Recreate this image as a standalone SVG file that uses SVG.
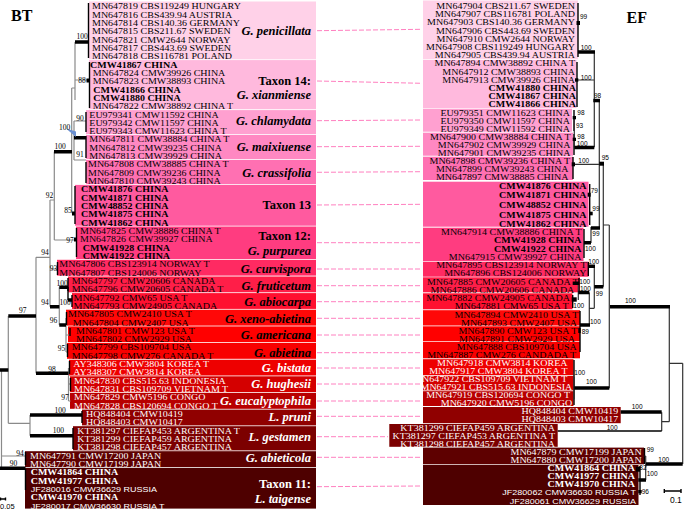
<svg xmlns="http://www.w3.org/2000/svg" width="685" height="512" viewBox="0 0 685 512">
<style>
.t{font-family:"Liberation Serif","Times New Roman",serif;font-size:7.2px}
.b{font-weight:bold}
.w{fill:#fff}
.r{text-anchor:end}
.s{font-family:"Liberation Sans",Arial,sans-serif;font-size:6.5px;font-weight:normal}
.sp{font-family:"Liberation Serif","Times New Roman",serif;font-size:12.5px;font-weight:bold;font-style:italic;text-anchor:end}
.tx{font-style:normal}
.bl{font-family:"Liberation Serif","Times New Roman",serif;font-size:7.5px;text-anchor:middle}
.br{font-family:"Liberation Sans",Arial,sans-serif;font-size:6.5px}
.hd{font-family:"Liberation Serif","Times New Roman",serif;font-size:16px;font-weight:bold}
.lg{fill:none;stroke:#8a8a8a;stroke-width:1.2}
.lk{fill:none;stroke:#000;stroke-width:1.4}
.th{fill:none;stroke:#000;stroke-width:3.5}
.lr{fill:none;stroke:#333;stroke-width:1.2}
.cn{stroke:#ff80c0;stroke-width:1;stroke-dasharray:5 2}
</style>
<rect width="685" height="512" fill="#fff"/>
<text class="hd" x="11" y="20.5">BT</text>
<text class="hd" x="626.5" y="22.7">EF</text>

<!-- LEFT CLADES -->
<g id="L-penicillata">
<rect x="89" y="1.5" width="227" height="57.8" fill="#FFD1E8"/>
<text class="t" transform="translate(92,0) scale(1.389,1)"><tspan x="0" y="9.4">MN647819 CBS119249 HUNGARY</tspan><tspan x="0" y="17.7">MN647816 CBS439.94 AUSTRIA</tspan><tspan x="0" y="26">MN647814 CBS140.36 GERMANY</tspan><tspan x="0" y="34.4">MN647815 CBS211.67 SWEDEN</tspan><tspan x="0" y="42.7">MN647821 CMW2644 NORWAY</tspan><tspan x="0" y="51">MN647817 CBS443.69 SWEDEN</tspan><tspan x="0" y="59.3">MN647818 CBS116781 POLAND</tspan></text>
<text class="sp" x="311" y="35">G. penicillata</text>
</g>
<g id="L-taxon14">
<rect x="89" y="60.1" width="227" height="49.1" fill="#FFB9DD"/>
<text class="t" transform="translate(92.7,0) scale(1.389,1)"><tspan class="b" x="-1.94" y="67.6">CMW41867 CHINA</tspan><tspan x="0" y="76">MN647824 CMW39926 CHINA</tspan><tspan x="0" y="84.3">MN647823 CMW38893 CHINA</tspan><tspan class="b" x="0.43" y="92.6">CMW41866 CHINA</tspan><tspan class="b" x="0.43" y="100.9">CMW41880 CHINA</tspan><tspan x="0" y="109.2">MN647822 CMW38892 CHINA T</tspan></text>
<text class="sp"><tspan class="tx" x="311" y="85.3">Taxon 14:</tspan><tspan x="311" y="99.3">G. xianmiense</tspan></text>
</g>
<g id="L-chlamydata">
<rect x="86" y="110.1" width="230" height="24.1" fill="#FFA0D0"/>
<text class="t" transform="translate(89.3,0) scale(1.389,1)"><tspan x="0" y="117.6">EU979341 CMW11592 CHINA</tspan><tspan x="0" y="125.9">EU979342 CMW11597 CHINA</tspan><tspan x="0" y="134.2">EU979343 CMW11623 CHINA T</tspan></text>
<text class="sp" x="311" y="125">G. chlamydata</text>
</g>
<g id="L-maixiuense">
<rect x="86" y="135" width="230" height="24.2" fill="#FF88C2"/>
<text class="t" transform="translate(89.3,0) scale(1.389,1)"><tspan x="0" y="142.5">MN647811 CMW38884 CHINA T</tspan><tspan x="0" y="150.8">MN647812 CMW39235 CHINA</tspan><tspan x="0" y="159.2">MN647813 CMW39929 CHINA</tspan></text>
<text class="sp" x="311" y="151">G. maixiuense</text>
</g>
<g id="L-crassifolia">
<rect x="86" y="160" width="230" height="24.1" fill="#FF70B2"/>
<text class="t" transform="translate(88,0) scale(1.389,1)"><tspan x="0" y="167.5">MN647808 CMW38885 CHINA T</tspan><tspan x="0" y="175.8">MN647809 CMW39236 CHINA</tspan><tspan x="0" y="184.1">MN647810 CMW39243 CHINA</tspan></text>
<text class="sp" x="311" y="176.8">G. crassifolia</text>
</g>
<g id="L-taxon13">
<rect x="75" y="184.9" width="241" height="40.8" fill="#FF5A9F"/>
<text class="t b" transform="translate(81,0) scale(1.389,1)"><tspan x="0" y="192.4">CMW41876 CHINA</tspan><tspan x="0" y="200.8">CMW41871 CHINA</tspan><tspan x="0" y="209.1">CMW48852 CHINA</tspan><tspan x="0" y="217.4">CMW41875 CHINA</tspan><tspan x="0" y="225.7">CMW41862 CHINA</tspan></text>
<text class="sp tx" x="311" y="209.3">Taxon 13</text>
</g>
<g id="L-taxon12">
<rect x="76" y="226.5" width="240" height="32.5" fill="#FF3C80"/>
<text class="t" transform="translate(80,0) scale(1.389,1)"><tspan x="0" y="234">MN647825 CMW38886 CHINA T</tspan><tspan x="0" y="242.4">MN647826 CMW39927 CHINA</tspan><tspan class="b" x="1.94" y="250.7">CMW41928 CHINA</tspan><tspan class="b" x="1.94" y="259">CMW41922 CHINA</tspan></text>
<text class="sp"><tspan class="tx" x="311" y="240.3">Taxon 12:</tspan><tspan x="311" y="255.3">G. purpurea</tspan></text>
</g>
<g id="L-curvispora">
<rect x="57" y="259.8" width="259" height="15.8" fill="#FF2A62"/>
<text class="t" transform="translate(59.3,0) scale(1.389,1)"><tspan x="0" y="267.3">MN647806 CBS123914 NORWAY T</tspan><tspan x="0" y="275.6">MN647807 CBS124006 NORWAY</tspan></text>
<text class="sp" x="311" y="272.8">G. curvispora</text>
</g>
<g id="L-fruticetum">
<rect x="68" y="276.5" width="248" height="15.8" fill="#FF1E48"/>
<text class="t" transform="translate(71.7,0) scale(1.389,1)"><tspan x="0" y="284">MN647797 CMW20606 CANADA</tspan><tspan x="0" y="292.3">MN647796 CMW20605 CANADA T</tspan></text>
<text class="sp" x="311" y="289.8">G. fruticetum</text>
</g>
<g id="L-abiocarpa">
<rect x="72" y="293.1" width="244" height="15.8" fill="#FF1030"/>
<text class="t" transform="translate(73.5,0) scale(1.389,1)"><tspan x="0" y="300.6">MN647792 CMW65 USA T</tspan><tspan x="0" y="308.9">MN647793 CMW24905 CANADA</tspan></text>
<text class="sp" x="311" y="306.3">G. abiocarpa</text>
</g>
<g id="L-xeno-abietina">
<rect x="66" y="309.7" width="250" height="15.9" fill="#FF0808"/>
<text class="t" transform="translate(68,0) scale(1.389,1)"><tspan x="0" y="317.2">MN647805 CMW2410 USA T</tspan><tspan x="3.38" y="325.6">MN647804 CMW2407 USA</tspan></text>
<text class="sp" x="311" y="322.6">G. xeno-abietina</text>
</g>
<g id="L-americana">
<rect x="68" y="326.4" width="248" height="15.8" fill="#FF0000"/>
<text class="t" transform="translate(76,0) scale(1.389,1)"><tspan x="0" y="333.9">MN647801 CMW123 USA T</tspan><tspan x="0" y="342.2">MN647802 CMW2929 USA</tspan></text>
<text class="sp" x="311" y="339.3">G. americana</text>
</g>
<g id="L-abietina">
<rect x="67" y="343" width="249" height="15.8" fill="#F80000"/>
<text class="t" transform="translate(71.7,0) scale(1.389,1)"><tspan x="0" y="350.5">MN647799 CBS109704 USA</tspan><tspan x="0" y="358.8">MN647798 CMW276 CANADA T</tspan></text>
<text class="sp" x="311" y="357">G. abietina</text>
</g>
<g id="L-bistata">
<rect x="69" y="359.7" width="247" height="15.8" fill="#EE0000"/>
<text class="t w" transform="translate(73.3,0) scale(1.389,1)"><tspan x="0" y="367.2">AY348306 CMW3804 KOREA T</tspan><tspan x="0" y="375.5">AY348307 CMW3814 KOREA</tspan></text>
<text class="sp w" x="311" y="372.3">G. bistata</text>
</g>
<g id="L-hughesii">
<rect x="70" y="376.3" width="246" height="15.8" fill="#D40000"/>
<text class="t w" transform="translate(74,0) scale(1.389,1)"><tspan x="0" y="383.8">MN647830 CBS515.63 INDONESIA</tspan><tspan x="0" y="392.1">MN647831 CBS109709 VIETNAM T</tspan></text>
<text class="sp w" x="311" y="388.3">G. hughesii</text>
</g>
<g id="L-eucalyptophila">
<rect x="70" y="392.9" width="246" height="15.9" fill="#B80000"/>
<text class="t w" transform="translate(74,0) scale(1.389,1)"><tspan x="0" y="400.4">MN647829 CMW5196 CONGO</tspan><tspan x="0" y="408.8">MN647828 CBS120694 CONGO T</tspan></text>
<text class="sp w" x="311" y="405.3">G. eucalyptophila</text>
</g>
<g id="L-pruni">
<rect x="82" y="409.6" width="234" height="15.8" fill="#900000"/>
<text class="t w" transform="translate(86,0) scale(1.389,1)"><tspan x="0" y="417.1">HQ848404 CMW10419</tspan><tspan x="0" y="425.4">HQ848403 CMW10417</tspan></text>
<text class="sp w" x="311" y="420.6">L. pruni</text>
</g>
<g id="L-gestamen">
<rect x="73" y="426.2" width="243" height="24.2" fill="#7C0000"/>
<text class="t w" transform="translate(77.3,0) scale(1.389,1)"><tspan x="0" y="433.7">KT381297 CIEFAP453 ARGENTINA T</tspan><tspan x="0" y="442">KT381299 CIEFAP459 ARGENTINA</tspan><tspan x="0" y="450.4">KT381298 CIEFAP457 ARGENTINA</tspan></text>
<text class="sp w" x="311" y="441">L. gestamen</text>
</g>
<g id="L-abieticola">
<rect x="25" y="451.2" width="291" height="15.8" fill="#5E0000"/>
<text class="t w" transform="translate(30,0) scale(1.389,1)"><tspan x="0" y="458.7">MN647791 CMW17200 JAPAN</tspan><tspan x="0" y="467">MN647790 CMW17199 JAPAN</tspan></text>
<text class="sp w" x="311" y="461.6">G. abieticola</text>
</g>
<g id="L-taxon11">
<rect x="25" y="467.8" width="291" height="40.8" fill="#4E0000"/>
<text class="t w" transform="translate(30.7,0) scale(1.389,1)"><tspan class="b" x="0" y="475.3">CMW41864 CHINA</tspan><tspan class="b" x="0" y="483.6">CMW41977 CHINA</tspan><tspan class="s" x="0" y="492">JF280016 CMW36629 RUSSIA</tspan><tspan class="b" x="0" y="500.3">CMW41970 CHINA</tspan><tspan class="s" x="0" y="508.6">JF280017 CMW36630 RUSSIA T</tspan></text>
<text class="sp w"><tspan class="tx" x="311" y="488.3">Taxon 11:</tspan><tspan x="311" y="502.6">L. taigense</tspan></text>
</g>

<!-- RIGHT CLADES -->
<g id="R-penicillata">
<rect x="423" y="0.5" width="155" height="58.8" fill="#FFD1E8"/>
<text class="t r" transform="translate(575,0) scale(1.389,1)"><tspan x="0" y="9.1">MN647904 CBS211.67 SWEDEN</tspan><tspan x="0" y="17.3">MN647907 CBS116781 POLAND</tspan><tspan x="0" y="25.5">MN647903 CBS140.36 GERMANY</tspan><tspan x="0" y="33.7">MN647906 CBS443.69 SWEDEN</tspan><tspan x="0" y="41.9">MN647910 CMW2644 NORWAY</tspan><tspan x="0" y="50.1">MN647908 CBS119249 HUNGARY</tspan><tspan x="0" y="58.2">MN647905 CBS439.94 AUSTRIA</tspan></text>
</g>
<g id="R-taxon14">
<rect x="423" y="60" width="153.5" height="48" fill="#FFB9DD"/>
<text class="t r" transform="translate(575,0) scale(1.389,1)"><tspan x="0" y="66.4">MN647894 CMW38892 CHINA T</tspan><tspan x="0" y="74.6">MN647912 CMW38893 CHINA</tspan><tspan x="0" y="82.8">MN647913 CMW39926 CHINA</tspan><tspan class="b" x="0.72" y="91">CMW41880 CHINA</tspan><tspan class="b" x="0.72" y="99.2">CMW41867 CHINA</tspan><tspan class="b" x="0.72" y="107.4">CMW41866 CHINA</tspan></text>
</g>
<g id="R-chlamydata">
<rect x="423" y="108.7" width="149" height="23" fill="#FFA0D0"/>
<text class="t r" transform="translate(570,0) scale(1.389,1)"><tspan x="0" y="115.6">EU979351 CMW11623 CHINA</tspan><tspan x="0" y="123.7">EU979350 CMW11597 CHINA</tspan><tspan x="0" y="131.8">EU979349 CMW11592 CHINA</tspan></text>
</g>
<g id="R-maixiuense">
<rect x="423" y="132.7" width="150" height="23" fill="#FF88C2"/>
<text class="t r" transform="translate(570.5,0) scale(1.389,1)"><tspan x="0" y="139.9">MN647900 CMW38884 CHINA T</tspan><tspan x="0" y="148">MN647902 CMW39929 CHINA</tspan><tspan x="0" y="156.1">MN647901 CMW39235 CHINA</tspan></text>
</g>
<g id="R-crassifolia">
<rect x="423" y="156.7" width="150" height="23.3" fill="#FF70B2"/>
<text class="t r" transform="translate(570,0) scale(1.389,1)"><tspan x="0" y="164.2">MN647898 CMW39236 CHINA T</tspan><tspan x="-1.08" y="172.3">MN647899 CMW39243 CHINA</tspan><tspan x="-1.08" y="180.4">MN647897 CMW38885 CHINA</tspan></text>
</g>
<g id="R-taxon13">
<rect x="423" y="181.7" width="165.5" height="45" fill="#FF5A9F"/>
<text class="t b r" transform="translate(586.5,0) scale(1.389,1)"><tspan x="0" y="189.5">CMW41876 CHINA</tspan><tspan x="0" y="198.5">CMW41871 CHINA</tspan><tspan x="0" y="208.1">CMW48852 CHINA</tspan><tspan x="0" y="217.8">CMW41875 CHINA</tspan><tspan x="0" y="226.8">CMW41862 CHINA</tspan></text>
</g>
<g id="R-taxon12">
<rect x="423" y="227.7" width="160.5" height="33.3" fill="#FF3C80"/>
<text class="t r" transform="translate(581.5,0) scale(1.389,1)"><tspan x="0" y="234.8">MN647914 CMW38886 CHINA T</tspan><tspan class="b" x="0" y="242.8">CMW41928 CHINA</tspan><tspan class="b" x="0" y="251.8">CMW41922 CHINA</tspan><tspan x="0" y="259.9">MN647915 CMW39927 CHINA</tspan></text>
</g>
<g id="R-curvispora">
<rect x="423" y="261.7" width="165.5" height="15" fill="#FF2A62"/>
<text class="t r" transform="translate(586.5,0) scale(1.389,1)"><tspan x="0" y="267.9">MN647895 CBS123914 NORWAY T</tspan><tspan x="0" y="275.9">MN647896 CBS124006 NORWAY</tspan></text>
</g>
<g id="R-fruticetum">
<rect x="423" y="277.3" width="157" height="15" fill="#FF1E48"/>
<text class="t r" transform="translate(578.5,0) scale(1.389,1)"><tspan x="0" y="285.1">MN647885 CMW20605 CANADA T</tspan><tspan x="-3" y="293.2">MN647886 CMW20606 CANADA</tspan></text>
</g>
<g id="R-abiocarpa">
<rect x="423" y="293.3" width="149.5" height="16" fill="#FF1030"/>
<text class="t r" transform="translate(570,0) scale(1.389,1)"><tspan x="0" y="301.4">MN647882 CMW24905 CANADA</tspan><tspan x="-1.08" y="309.4">MN647881 CMW65 USA T</tspan></text>
</g>
<g id="R-xeno-abietina">
<rect x="423" y="310.2" width="157" height="15.3" fill="#FF0808"/>
<text class="t r" transform="translate(578.3,0) scale(1.389,1)"><tspan x="0" y="317.7">MN647894 CMW2410 USA T</tspan><tspan x="-0.94" y="325.8">MN647893 CMW2407 USA</tspan></text>
</g>
<g id="R-americana">
<rect x="423" y="326.3" width="157" height="15" fill="#FF0000"/>
<text class="t r" transform="translate(577.3,0) scale(1.389,1)"><tspan x="0" y="333.9">MN647890 CMW123 USA T</tspan><tspan x="-1.66" y="342">MN647891 CMW2929 USA</tspan></text>
</g>
<g id="R-abietina">
<rect x="423" y="342" width="157" height="16.3" fill="#F80000"/>
<text class="t r" transform="translate(576.7,0) scale(1.389,1)"><tspan x="0" y="350.1">MN647888 CBS109704 USA</tspan><tspan x="-0.5" y="358.1">MN647887 CMW276 CANDADA T</tspan></text>
</g>
<g id="R-bistata">
<rect x="423" y="359.2" width="150.5" height="15.8" fill="#EE0000"/>
<text class="t w r" transform="translate(567.5,0) scale(1.389,1)"><tspan x="0" y="366.1">MN647918 CMW3814 KOREA</tspan><tspan x="0" y="374.1">MN647917 CMW3804 KOREA T</tspan></text>
</g>
<g id="R-hughesii">
<rect x="423" y="375.8" width="150.5" height="14.6" fill="#D40000"/>
<text class="t w r" transform="translate(567.3,0) scale(1.389,1)"><tspan x="0" y="382.1">MN647922 CBS109709 VIETNAM T</tspan><tspan x="3.6" y="390.1">MN647921 CBS515.63 INDONESIA</tspan></text>
</g>
<g id="R-eucalyptophila">
<rect x="423" y="391.2" width="150.5" height="14.8" fill="#B80000"/>
<text class="t w r" transform="translate(570,0) scale(1.389,1)"><tspan x="0" y="398.1">MN647919 CBS120694 CONGO T</tspan><tspan x="1.66" y="406.2">MN647920 CMW5196 CONGO</tspan></text>
</g>
<g id="R-pruni">
<rect x="423" y="407" width="197.7" height="16.2" fill="#900000"/>
<text class="t w r" transform="translate(618.3,0) scale(1.389,1)"><tspan x="0" y="414.4">HQ848404 CMW10419</tspan><tspan x="0" y="422.4">HQ848403 CMW10417</tspan></text>
</g>
<g id="R-gestamen">
<rect x="389.3" y="424" width="168.4" height="22.8" fill="#7C0000"/>
<text class="t w r" transform="translate(555,0) scale(1.389,1)"><tspan x="0" y="430.7">KT381299 CIEFAP459 ARGENTINA</tspan><tspan x="0" y="438.8">KT381297 CIEFAP453 ARGENTINA T</tspan><tspan x="0" y="446.9">KT381298 CIEFAP457 ARGENTINA</tspan></text>
</g>
<g id="R-abieticola">
<rect x="423" y="447.6" width="221" height="16.7" fill="#5E0000"/>
<text class="t w r" transform="translate(641.7,0) scale(1.389,1)"><tspan x="0" y="455">MN647879 CMW17199 JAPAN</tspan><tspan x="0" y="463.1">MN647880 CMW17200 JAPAN</tspan></text>
</g>
<g id="R-taxon11">
<rect x="423" y="465" width="215.5" height="40" fill="#4E0000"/>
<text class="t w r" transform="translate(635,0) scale(1.389,1)"><tspan class="b" x="0" y="471.1">CMW41864 CHINA</tspan><tspan class="b" x="0" y="479.4">CMW41977 CHINA</tspan><tspan class="b" x="0" y="487.4">CMW41970 CHINA</tspan><tspan class="s" x="0.72" y="495.4">JF280062 CMW36630 RUSSIA T</tspan><tspan class="s" x="0.72" y="504.1">JF280061 CMW36629 RUSSIA</tspan></text>
</g>

<!-- CONNECTORS -->
<g id="connectors">
<line class="cn" x1="317" y1="30.7" x2="422" y2="29.3"/>
<line class="cn" x1="317" y1="81" x2="422" y2="83.3"/>
<line class="cn" x1="317" y1="120.7" x2="422" y2="120"/>
<line class="cn" x1="317" y1="146.7" x2="422" y2="146.3"/>
<line class="cn" x1="317" y1="172.3" x2="422" y2="171.7"/>
<line class="cn" x1="317" y1="205" x2="422" y2="204.3"/>
<line class="cn" x1="317" y1="242.7" x2="422" y2="242.7"/>
<line class="cn" x1="317" y1="269" x2="422" y2="269"/>
<line class="cn" x1="317" y1="285.7" x2="422" y2="285.7"/>
<line class="cn" x1="317" y1="301.7" x2="422" y2="301.7"/>
<line class="cn" x1="317" y1="318.3" x2="422" y2="318.3"/>
<line class="cn" x1="317" y1="335" x2="422" y2="335"/>
<line class="cn" x1="317" y1="352.7" x2="422" y2="352.7"/>
<line class="cn" x1="317" y1="368" x2="422" y2="368"/>
<line class="cn" x1="317" y1="384" x2="422" y2="384"/>
<line class="cn" x1="317" y1="401" x2="422" y2="401"/>
<line class="cn" x1="317" y1="416.3" x2="422" y2="416.3"/>
<line class="cn" x1="317" y1="436.7" x2="388" y2="436.7"/>
<line class="cn" x1="317" y1="457.3" x2="422" y2="457.3"/>
<line class="cn" x1="317" y1="486.7" x2="422" y2="486"/>
</g>

<!-- LEFT TREE -->
<g id="tree-left">
<path class="lg" d="M75,42V100M75,80H89M71.7,88H75M71.7,88V213M71.7,133H74M74,121V160M74,121H86M74,160H86M71.7,213H75M54.3,151.7V240M54.3,240H76M50,200H54.3M50,200V306.7M36,257.3H50M50,269H57.5M36,257.3V373.3M8.3,316V423.3M59.3,287.3V325M66,318V352M66,335H70M66,352H67.5M68.5,368V401M68.5,384H70.5M68.5,401H70.5M8.3,423.3H30M30,415V435.7M1.5,370V468.3M1.5,456H25.5"/>
<path class="lk" d="M88.5,3V58M89.5,62V108M86,112V132M86,136V158M86,162V183M75,186V224M76.5,228V257M57.5,262V275M68,278V291M72,295V307M66.5,312V325M70,328V336M67.5,344V357M69.5,361V374M82,411V423M73,428V449M25.5,452V465M25.5,469V490"/>
<path class="lk" stroke-width="2.2" d="M70.5,378V391M68,287V300"/>
<path class="th" d="M75,42H88.5M54,151.7H72M74,137.7H86M59.3,287.3H68M68,300H72M50,306.7H59.3M59.3,325H66M8.3,316H36M36,373.3H68.5M0,370H8.3M30,415H82M30,435.7H73M0,468.3H25.5"/>
<rect x="86.5" y="78.5" width="3" height="4"/>
<rect x="72" y="211.5" width="3" height="4"/>
<rect x="74" y="237.5" width="3" height="4"/>
<polygon points="66,128.5 76,131.5 76,137" fill="#6a8fd0"/>
<text class="bl" x="82" y="39">100</text>
<text class="bl" x="82" y="83">88</text>
<text class="bl" x="80" y="121">90</text>
<text class="bl" x="64.5" y="130">100</text>
<text class="bl" x="60" y="149">100</text>
<text class="bl" x="80" y="156.5">91</text>
<text class="bl" x="49.5" y="198">92</text>
<text class="bl" x="68" y="212.5">85</text>
<text class="bl" x="70" y="242.5">97</text>
<text class="bl" x="45" y="255">94</text>
<text class="bl" x="53.5" y="271">93</text>
<text class="bl" x="62" y="285.5">100</text>
<text class="bl" x="65" y="305">100</text>
<text class="bl" x="45" y="304.5">94</text>
<text class="bl" x="22.7" y="313">97</text>
<text class="bl" x="53.5" y="322.5">96</text>
<text class="bl" x="61.5" y="351">95</text>
<text class="bl" x="52" y="371.5">98</text>
<text class="bl" x="65" y="399.5">97</text>
<text class="bl" x="60" y="412.5">100</text>
<text class="bl" x="58.3" y="433">100</text>
<text class="bl" x="20" y="455.5">94</text>
<text class="bl" x="13.5" y="466">90</text>
<path class="lk" stroke-width="0.8" d="M0.5,499H5.5M0.5,497.5V500.5M5.5,497.5V500.5"/>
<text class="br" style="font-size:7.5px" x="0" y="509">0.05</text>
</g>

<!-- RIGHT TREE -->
<g id="tree-right">
<path class="lk" d="M578,3V57M577,62V107M574,110V131M574,134V155M573,157V179M589.7,184V225M584,229V258M588.3,262V276M579,278V291M572.7,295V308M580,311V352M574,360V405M644.5,448V464M640,466V495"/>
<path class="lr" d="M594.3,52V147.3M577,80H594.3M574.3,117V147.3M573,164.3H600M599.3,100V227M603.3,164V286.7M591,227V243M603.3,225H609.3M609.3,225V388.3M594.3,266V308.3M589.3,308.3H594.3M589.3,292.5V325M578.3,283.3V300M669.3,306.7V421.7M661.7,412.3V431M661.7,421.7H669.3M669.3,363.3H682.7M682.7,363.3V464M645.7,456V480M644.5,456H645.7M574.3,376.7V399.3"/>
<path class="lk" stroke-width="1.5" d="M557.7,431H661.7"/>
<path class="th" d="M578,52H595M574.3,147.5H594.3M591,228H600M584,242.8H591M588.3,266.3H595M572.7,283.3H579.3M578.3,292.5H589.3M594.3,286.7H603.3M580,325H590M610,306.7H670M574.3,388H609.3M620.7,412H661.7M646,464H682.7M638.3,480H646"/>
<rect x="593.3" y="98.8" width="6.7" height="3.5"/>
<rect x="575" y="78.3" width="3.3" height="3.4"/>
<rect x="576.5" y="21" width="3.5" height="4"/>
<rect x="572.7" y="116" width="3.3" height="3.3"/>
<rect x="572.7" y="137.7" width="3.3" height="3.3"/>
<rect x="571.7" y="162.3" width="3.3" height="4"/>
<rect x="599.3" y="161.7" width="4.7" height="4"/>
<rect x="587.7" y="192.7" width="3" height="4"/>
<rect x="589.3" y="211.7" width="3.4" height="3.6"/>
<rect x="571.7" y="297.3" width="5" height="4.4"/>
<rect x="578.3" y="328" width="2.4" height="5"/>
<rect x="636" y="466.7" width="4" height="5"/>
<rect x="638.3" y="490" width="3.4" height="3.3"/>
<text class="br" x="580" y="18.5">99</text>
<text class="br" x="580.7" y="49.5">100</text>
<text class="br" x="580.7" y="80">100</text>
<text class="br" x="594" y="98">98</text>
<text class="br" x="577.3" y="115">98</text>
<text class="br" x="576" y="128">93</text>
<text class="br" x="577.3" y="138.5">98</text>
<text class="br" x="576.7" y="146">100</text>
<text class="br" x="578.3" y="162.5">100</text>
<text class="br" x="601.7" y="160">95</text>
<text class="br" x="590.7" y="193">79</text>
<text class="br" x="592.3" y="211">99</text>
<text class="br" x="592.3" y="236">99</text>
<text class="br" x="585" y="251">100</text>
<text class="br" x="588.3" y="263.5">100</text>
<text class="br" x="579.3" y="283.5">100</text>
<text class="br" x="580" y="290.8">100</text>
<text class="br" x="595.7" y="296">99</text>
<text class="br" x="573.3" y="307.5">100</text>
<text class="br" x="590" y="324">100</text>
<text class="br" x="581.7" y="333.5">89</text>
<text class="br" x="625" y="302.5">100</text>
<text class="br" x="574.3" y="375">100</text>
<text class="br" x="586" y="383.5">100</text>
<text class="br" x="631.7" y="408.5">100</text>
<text class="br" x="606.7" y="429.5">100</text>
<text class="br" x="646.7" y="452">99</text>
<text class="br" x="658.3" y="462">100</text>
<text class="br" x="639.3" y="470">82</text>
<text class="br" x="646.7" y="476">100</text>
<text class="br" x="641.7" y="493.5">96</text>
<path class="lk" stroke-width="0.8" d="M664.3,491H681M664.3,489V493M681,489V493"/>
<text class="br" style="font-size:8.5px" x="670" y="502.5">0.1</text>
</g>
</svg>
